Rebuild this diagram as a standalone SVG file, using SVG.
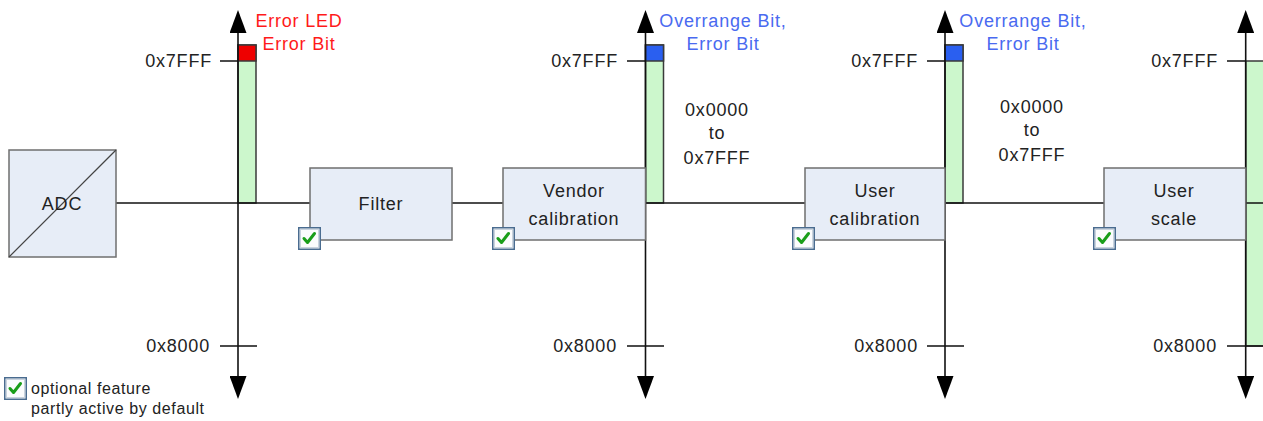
<svg xmlns="http://www.w3.org/2000/svg" width="1263" height="421" viewBox="0 0 1263 421">
<defs>
<style>
text{font-family:"Liberation Sans",Arial,sans-serif;fill:#222;}
.lbl{font-size:18px;letter-spacing:0.8px;}
.c{text-anchor:middle;}
.r{text-anchor:end;}
.red{fill:#ff1a1a;}
.blue{fill:#4a6af0;}
.box{fill:#e7edf7;stroke:#6f6f6f;stroke-width:1.5;}
.bar{fill:#ccf7cc;stroke:#3a3a3a;stroke-width:1.5;}
.axis{stroke:#111;stroke-width:1.6;fill:none;}
.wire{stroke:#111;stroke-width:1.5;fill:none;}
.tick{stroke:#111;stroke-width:1.5;}
.leg{font-size:16px;letter-spacing:0.6px;}
</style>
<marker id="arr" viewBox="0 0 23 17" markerWidth="23" markerHeight="17" refX="1" refY="8.5" orient="auto-start-reverse" markerUnits="userSpaceOnUse">
<path d="M0,0 L23,8.5 L0,17 Z" fill="#000"/>
</marker>
<g id="chk">
<rect x="0.75" y="0.75" width="21.5" height="21.5" fill="#f3f5f7" stroke="#4a6c90" stroke-width="1.5"/>
<rect x="2.5" y="2.5" width="18" height="18" fill="#fbfcfd" stroke="#c9d3de" stroke-width="1"/>
<path d="M6,11.5 L9.5,15.5 L16.5,6.5" fill="none" stroke="#1a9e1a" stroke-width="3" stroke-linecap="round" stroke-linejoin="round"/>
</g>
</defs>
<rect width="1263" height="421" fill="#fff"/>

<g id="bars">
<rect class="bar" x="238" y="45" width="18" height="158"/>
<rect x="238" y="45" width="18" height="16" fill="#ee0000" stroke="#3a3a3a" stroke-width="1.5"/>
<rect class="bar" x="645.5" y="45" width="18" height="158"/>
<rect x="645.5" y="45" width="18" height="16" fill="#2a5ff0" stroke="#3a3a3a" stroke-width="1.5"/>
<rect class="bar" x="945" y="45" width="18" height="158"/>
<rect x="945" y="45" width="18" height="16" fill="#2a5ff0" stroke="#3a3a3a" stroke-width="1.5"/>
<rect class="bar" x="1245.7" y="61" width="20" height="285"/>
</g>

<g id="connectors">
<path class="wire" d="M116,203 H310"/>
<path class="wire" d="M452,203 H503"/>
<path class="wire" d="M645.5,203 H805"/>
<path class="wire" d="M945,203 H1104"/>
<path class="wire" d="M1245.7,203 H1263"/>
<path class="axis" d="M238,32 V377" marker-start="url(#arr)" marker-end="url(#arr)"/>
<path class="axis" d="M645.5,32 V377" marker-start="url(#arr)" marker-end="url(#arr)"/>
<path class="axis" d="M945,32 V377" marker-start="url(#arr)" marker-end="url(#arr)"/>
<path class="axis" d="M1245.7,32 V377" marker-start="url(#arr)" marker-end="url(#arr)"/>
<path class="tick" d="M220,61 H238 M220,346 H257"/>
<path class="tick" d="M627,61 H645.5 M627,346 H664"/>
<path class="tick" d="M927,61 H945 M927,346 H964"/>
<path class="tick" d="M1227,61 H1246 M1227,346 H1263"/>
</g>

<g id="axis1-labels">
<text class="lbl r" x="212" y="67">0x7FFF</text>
<text class="lbl r" x="210" y="352">0x8000</text>
<text class="lbl c red" x="299" y="27">Error LED</text>
<text class="lbl c red" x="299" y="50">Error Bit</text>
</g>
<g id="axis2-labels">
<text class="lbl r" x="618" y="67">0x7FFF</text>
<text class="lbl r" x="617" y="352">0x8000</text>
<text class="lbl c blue" x="723" y="27">Overrange Bit,</text>
<text class="lbl c blue" x="723" y="50">Error Bit</text>
<text class="lbl c" x="717" y="116">0x0000</text>
<text class="lbl c" x="717" y="139">to</text>
<text class="lbl c" x="717" y="164">0x7FFF</text>
</g>
<g id="axis3-labels">
<text class="lbl r" x="918" y="67">0x7FFF</text>
<text class="lbl r" x="918" y="352">0x8000</text>
<text class="lbl c blue" x="1023" y="27">Overrange Bit,</text>
<text class="lbl c blue" x="1023" y="50">Error Bit</text>
<text class="lbl c" x="1032" y="113">0x0000</text>
<text class="lbl c" x="1032" y="136">to</text>
<text class="lbl c" x="1032" y="161">0x7FFF</text>
</g>
<g id="axis4-labels">
<text class="lbl r" x="1218" y="67">0x7FFF</text>
<text class="lbl r" x="1217" y="352">0x8000</text>
</g>

<g id="adc">
<rect class="box" x="9" y="150" width="107" height="107"/>
<path d="M9,257 L116,150" stroke="#444" stroke-width="1.2"/>
<text class="lbl c" x="62" y="210">ADC</text>
</g>
<g id="filter">
<rect class="box" x="310" y="168" width="142" height="72"/>
<text class="lbl c" x="381" y="210">Filter</text>
<use href="#chk" x="298" y="227"/>
</g>
<g id="vendor-calibration">
<rect class="box" x="503" y="168" width="142.5" height="72"/>
<text class="lbl c" x="574" y="197">Vendor</text>
<text class="lbl c" x="574" y="225">calibration</text>
<use href="#chk" x="492" y="227"/>
</g>
<g id="user-calibration">
<rect class="box" x="805" y="168" width="140" height="72"/>
<text class="lbl c" x="875" y="197">User</text>
<text class="lbl c" x="875" y="225">calibration</text>
<use href="#chk" x="792" y="227"/>
</g>
<g id="user-scale">
<rect class="box" x="1104" y="168" width="141.7" height="72"/>
<text class="lbl c" x="1174" y="197">User</text>
<text class="lbl c" x="1174" y="225">scale</text>
<use href="#chk" x="1093" y="227"/>
</g>

<g id="legend">
<use href="#chk" x="4" y="377"/>
<text class="leg" x="31" y="394">optional feature</text>
<text class="leg" x="31" y="414">partly active by default</text>
</g>
</svg>
